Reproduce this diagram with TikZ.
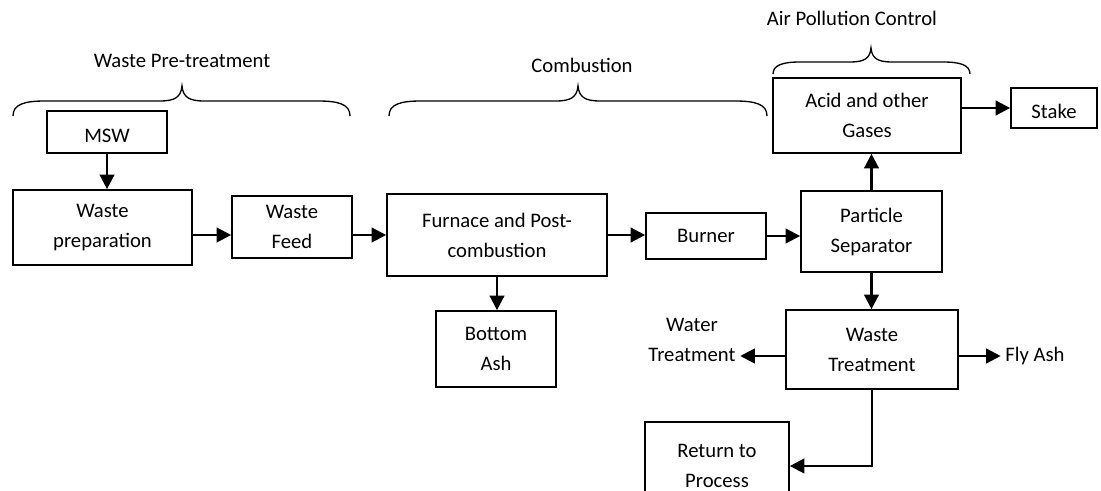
\documentclass[tikz,border=0pt]{standalone}
\usepackage{fontspec}
\setmainfont{Carlito}
\usetikzlibrary{arrows.meta}

\begin{document}
\begin{tikzpicture}[x=0.75pt,y=0.75pt,yscale=-1,
  font=\fontsize{15.5}{22.5}\selectfont,
  box/.style={draw, line width=1.2pt, align=center, inner sep=0pt},
  wh/.style 2 args={minimum width=#1*0.75pt, minimum height=#2*0.75pt},
  arr/.style={line width=1.8pt, -{Triangle[length=11pt,width=11pt]}},
  brc/.style={line width=1pt}]
%set diagram size 1101 x 491
\useasboundingbox (0,0) rectangle (1101,491);

%Curve Lines: braces
\draw [brc] (13,116) .. controls (13,104) and (25,101) .. (45,101) -- (160,101) .. controls (175,101) and (181,97) .. (182,86) .. controls (183,97) and (189,101) .. (204,101) -- (318,101) .. controls (338,101) and (350,104) .. (350,116) ;
\draw [brc] (389,116) .. controls (389,104) and (401,101) .. (421,101) -- (556,101) .. controls (571,101) and (577,97) .. (578,86) .. controls (579,97) and (585,101) .. (600,101) -- (735,101) .. controls (755,101) and (767,104) .. (767,116) ;
\draw [brc] (773,74) .. controls (773,65) and (783,62) .. (800,62) -- (850,62) .. controls (865,62) and (870,58) .. (871,48) .. controls (872,58) and (877,62) .. (892,62) -- (943,62) .. controls (960,62) and (970,65) .. (970,74) ;

% Text Node
\draw (182,61) node (pre) {Waste Pre-treatment};
% Text Node
\draw (582,65) node (comb) {Combustion};
% Text Node
\draw (852,18) node (apc) {Air Pollution Control};

%Shape: Rectangles
\draw (107,132) node [box, wh={120}{42}, text height=16pt] (msw) {MSW};
\draw (102.5,227.5) node [box, wh={179}{75}] (prep) {Waste\\preparation};
\draw (292,227) node [box, wh={120}{62}] (feed) {Waste\\Feed};
\draw (497,235) node [box, wh={220}{82}] (furnace) {Furnace and Post-\\combustion};
\draw (706,236) node [box, wh={120}{46}] (burner) {Burner};
\draw (496,349) node [box, wh={120}{76}] (bottom) {Bottom\\Ash};
\draw (871.5,231.5) node [box, wh={141}{81}] (particle) {Particle\\Separator};
\draw (867,115.5) node [box, wh={188}{75}] (acid) {Acid and other\\Gases};
\draw (1054,108) node [box, wh={86}{40}, text height=16pt] (stake) {Stake};
\draw (872,349.5) node [box, wh={172}{79}] (wtreat) {Waste\\Treatment};
\draw (717,466) node [box, wh={144}{88}] (ret) {Return to\\Process};

% Text Node
\draw (692,340) node [align=center] (water) {Water\\Treatment};
% Text Node
\draw (1035,356) node (flyash) {Fly Ash};

%Straight Lines: arrows
\draw [arr] (msw.south) -- (msw.south |- prep.north);
\draw [arr] (prep.east |- furnace) -- (feed.west |- furnace);
\draw [arr] (feed.east |- furnace) -- (furnace.west);
\draw [arr] (furnace.east) -- (burner.west |- furnace);
\draw [arr] (burner.east) -- (particle.west |- burner);
\draw [arr] (furnace.south) -- (furnace.south |- bottom.north);
\draw [arr] (particle.north) -- (particle.north |- acid.south);
\draw [arr] (acid.east |- stake) -- (stake.west);
\draw [arr] (particle.south) -- (particle.south |- wtreat.north);
\draw [arr] (wtreat.west |- flyash) -- (water.east |- flyash);
\draw [arr] (wtreat.east |- flyash) -- (flyash.west);
\draw [arr] (wtreat.south) |- (ret.east);

\end{tikzpicture}
\end{document}
